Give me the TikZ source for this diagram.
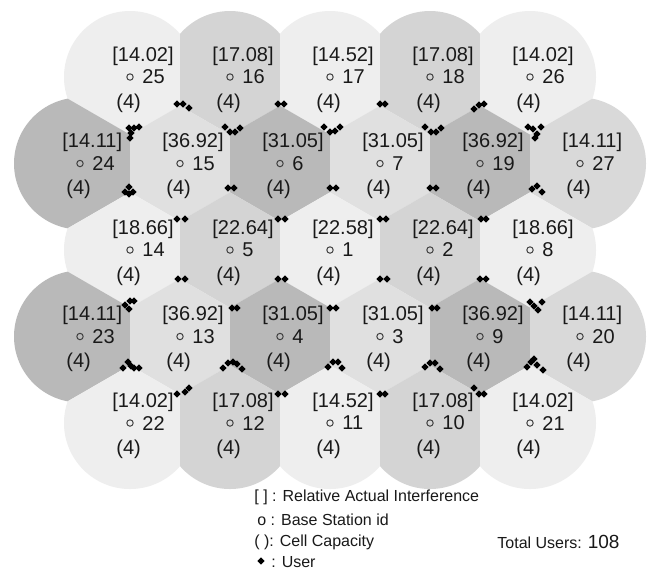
\documentclass[tikz,border=0pt]{standalone}
\usepackage{fontspec}
\setmainfont{Liberation Sans}
\usetikzlibrary{shapes.geometric}

\definecolor{pale}{HTML}{EEEEEE}
\definecolor{lite}{HTML}{E0E0E0}
\definecolor{mid}{HTML}{D4D4D4}
\definecolor{side}{HTML}{D9D9D9}
\definecolor{dark}{HTML}{B9B9B9}

\begin{document}
\begin{tikzpicture}[x=0.5pt, y=-0.5pt,
    bs/.style={circle, draw=black!75, line width=0.5pt, inner sep=0pt, minimum size=3.2pt},
    user/.style={diamond, fill=black, inner sep=0pt, minimum size=3.8pt},
    val/.style={inner sep=0pt, anchor=west, text=black!90, font=\fontsize{10}{12}\selectfont},
    key/.style={inner sep=0pt, anchor=west, text=black!90, font=\fontsize{8}{10}\selectfont}]
    \fill[white] (0,0) rectangle (657,575);
    \useasboundingbox (0,0) rectangle (657,575);

    \foreach \x/\y/\c/\dirs/\id/\v in {
        130/77/pale/{0,240,300}/25/14.02, 230/77/mid/{0,180,240,300}/16/17.08,
        330/77/pale/{0,180,240,300}/17/14.52, 430/77/mid/{0,180,240,300}/18/17.08,
        530/77/pale/{180,240,300}/26/14.02,
        80/163.5/dark/{0,60,300}/24/14.11, 180/163.5/lite/{0,60,120,180,240,300}/15/36.92,
        280/163.5/dark/{0,60,120,180,240,300}/6/31.05, 380/163.5/lite/{0,60,120,180,240,300}/7/31.05,
        480/163.5/dark/{0,60,120,180,240,300}/19/36.92, 580/163.5/side/{120,180,240}/27/14.11,
        130/250/pale/{0,60,120,240,300}/14/18.66, 230/250/mid/{0,60,120,180,240,300}/5/22.64,
        330/250/pale/{0,60,120,180,240,300}/1/22.58, 430/250/mid/{0,60,120,180,240,300}/2/22.64,
        530/250/pale/{60,120,180,240,300}/8/18.66,
        80/336.5/dark/{0,60,300}/23/14.11, 180/336.5/lite/{0,60,120,180,240,300}/13/36.92,
        280/336.5/dark/{0,60,120,180,240,300}/4/31.05, 380/336.5/lite/{0,60,120,180,240,300}/3/31.05,
        480/336.5/dark/{0,60,120,180,240,300}/9/36.92, 580/336.5/side/{120,180,240}/20/14.11,
        130/423/pale/{0,60,120}/22/14.02, 230/423/mid/{0,60,120,180}/12/17.08,
        330/423/pale/{0,60,120,180}/11/14.52, 430/423/mid/{0,60,120,180}/10/17.08,
        530/423/pale/{60,120,180}/21/14.02}
    {
        \begin{scope}
            \foreach \a in \dirs
                \clip[shift={(\x,\y)}, rotate=\a] (-150,-150) rectangle (50,150);
            \fill[\c] (\x,\y) circle (66);
        \end{scope}
        \node[bs] (bs\id) at (\x,\y) {};
        \node[val] (v\id) at (\x-18,\y-21) {[\v]};
        \node[val] (n\id) at (\x+12,\y) {\id};
        \node[val] (cap\id) at (\x-14,\y+26) {(4)};
    }

    \foreach \x/\y [count=\k] in {
        177/104, 183/104, 189/108, 278/104, 284/104, 380/104, 385/104, 474/109, 479/105, 484/104,
        129/128, 134/128, 139/127, 131/133, 130/138, 225/127, 230/132, 235/132, 240/128,
        324/127, 330/132, 335/131, 340/127, 425/127, 431/132, 436/132, 441/128,
        528/127, 533/129, 537/134, 535/138, 541/127,
        129/187, 125/192, 133/192, 129/194, 228/188, 234/188, 330/188, 336/188, 430/188, 436/188,
        532/189, 537/186, 542/192,
        177/219, 185/219, 278/219, 285/219, 380/219, 386/219, 481/219, 486/219,
        178/279, 185/279, 278/279, 285/279, 380/279, 387/279, 480/279, 486/279,
        125/305, 130/301, 134/301, 129/309, 232/308, 237/308, 330/308, 336/308, 432/308, 437/308,
        530/302, 534/306, 538/310, 542/302,
        123/368, 128/362, 131/366, 134/368, 139/368, 223/368, 228/363, 233/362, 237/364, 242/369,
        328/367, 333/362, 338/362, 342/368, 425/367, 430/363, 435/363, 440/369,
        527/367, 531/362, 534/359, 537/365, 543/370,
        177/394, 185/392, 189/388, 278/394, 285/394, 380/394, 385/394, 474/388, 479/394, 484/394}
        \node[user] (u\k) at (\x,\y) {};

    \node[key] (k1) at (254,497) {[ ] : Relative Actual Interference};
    \node[key] (k2) at (257,520) {o : Base Station id};
    \node[key] (k3) at (254,542) {( ): Cell Capacity};
    \node[user] (k4) at (261,561) {};
    \node[key] (k5) at (271,562) {: User};
    \node[key] (tot) at (497,542) {Total Users: {\fontsize{9.5}{11}\selectfont 108}};
\end{tikzpicture}
\end{document}
